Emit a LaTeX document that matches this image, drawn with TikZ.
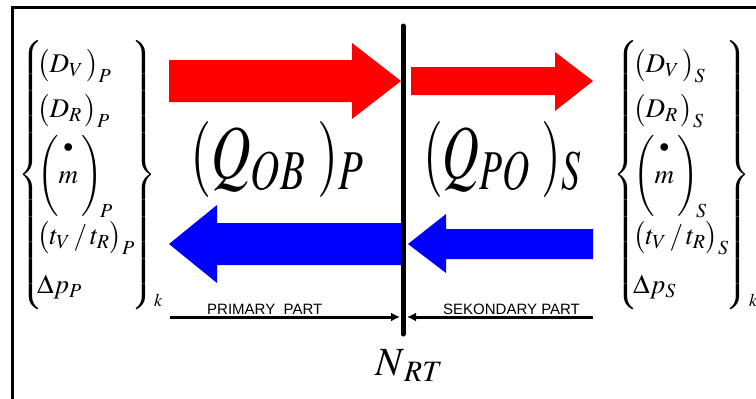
\documentclass[tikz,border=0pt]{standalone}
\usepackage{amsmath}
\usepackage{mathptmx}
\usepackage{fontspec}
\setmainfont{Liberation Serif}
\newfontfamily\partfont{Liberation Sans}
\usetikzlibrary{arrows.meta,positioning}
\definecolor{heatRed}{RGB}{255,0,0}
\definecolor{heatBlue}{RGB}{0,0,255}
\newcommand{\bigbrace}{\vrule height 139pt depth 125pt width 0pt}
\newcommand{\mdot}{\overset{\raisebox{13pt}{$\scriptstyle\bullet$}}{m}}

\begin{document}
\begin{tikzpicture}[
  x=1pt, y=-1pt,
  row/.style={anchor=base west, inner sep=0pt, font=\fontsize{27}{27}\selectfont},
  brace/.style={inner sep=0pt, font=\fontsize{28}{28}\selectfont},
  flux/.style={anchor=base west, inner sep=0pt, font=\fontsize{76}{76}\selectfont},
  part/.style={anchor=base west, inner sep=0pt, font=\partfont\fontsize{15}{15}\selectfont},
  redarrow/.style={fill=heatRed},
  bluearrow/.style={fill=heatBlue},
  bound/.style={-{Latex[length=9pt,width=9pt]}, line width=3pt}
]
\useasboundingbox (0,0) rectangle (756,399);
\fill[white] (0,0) rectangle (756,399);
% frame
\draw[line width=3pt] (12,399) -- (12,7) -- (756,7);

% heat flow arrows
\fill[redarrow] (169,60) -- (352,60) -- (352,43) -- (401,81) -- (352,119) -- (352,102) -- (169,102) -- cycle;
\fill[redarrow] (411,67) -- (555,67) -- (555,52) -- (593,81) -- (555,111) -- (555,95) -- (411,95) -- cycle;
\fill[bluearrow] (402,223) -- (217,223) -- (217,205) -- (169,244) -- (217,283) -- (217,265) -- (402,265) -- cycle;
\fill[bluearrow] (593,229) -- (446,229) -- (446,214) -- (408,244) -- (446,273) -- (446,259) -- (593,259) -- cycle;

% boundary
\coordinate (bartop) at (403,26);
\coordinate (barbot) at (403,334);
\draw[line width=5pt, line cap=round] (bartop) -- (barbot);
\node[anchor=base west, inner sep=0pt, font=\fontsize{40}{40}\selectfont] (nrt) at (375,375) {$N_{\mkern2mu RT}$};

% primary side
\node[brace, anchor=west] (lbP) at (18,175) {$\left\{\bigbrace\right.$};
\node[brace, anchor=east] (rbP) at (157,175) {$\left.\bigbrace\right\}$};
\node[anchor=base west, inner sep=0pt, font=\fontsize{18}{18}\selectfont] (kP) at (154,306) {$k$};
\node[row] (dvP) at (37,72) {$\bigl(D_V\,\bigr)_P$};
\node[row] (drP) at (37,117) {$\bigl(D_R\,\bigr)_P$};
\node[row] (mP) at (37,183) {$\left(\vrule height 45pt depth 32pt width 0pt\mdot\,\right)_{\!P}$};
\node[row] (tP) at (37,244) {$\bigl(t_V\,/\,t_R\bigr)_P$};
\node[row] (dpP) at (37,293) {$\Delta p_P$};
\node[flux] (qP) at (190,178) {\scalebox{0.72}[1]{$(Q_{OB}\;)_P$}};

% secondary side
\node[brace, anchor=west] (lbS) at (613,175) {$\left\{\bigbrace\right.$};
\node[brace, anchor=east] (rbS) at (751,175) {$\left.\bigbrace\right\}$};
\node[anchor=base west, inner sep=0pt, font=\fontsize{18}{18}\selectfont] (kS) at (749,306) {$k$};
\node[row] (dvS) at (633,72) {$\bigl(D_V\,\bigr)_S$};
\node[row] (drS) at (633,117) {$\bigl(D_R\,\bigr)_S$};
\node[row] (mS) at (633,183) {$\left(\vrule height 45pt depth 32pt width 0pt\mdot\,\right)_{\!S}$};
\node[row] (tS) at (633,244) {$\bigl(t_V\,/\,t_R\bigr)_S$};
\node[row] (dpS) at (633,293) {$\Delta p_S$};
\node[flux] (qS) at (423,178) {\scalebox{0.67}[1]{$(Q_{PO}\;)_S$}};

% parts
\coordinate (pstart) at (170,317);
\coordinate (pend) at (400,317);
\coordinate (sstart) at (593,317);
\coordinate (send) at (407,317);
\draw[bound] (pstart) -- (pend);
\draw[bound] (sstart) -- (send);
\node[part] (prim) at (207,314) {PRIMARY\ \ PART};
\node[part] (sek) at (443,314) {SEKONDARY PART};
\end{tikzpicture}
\end{document}
